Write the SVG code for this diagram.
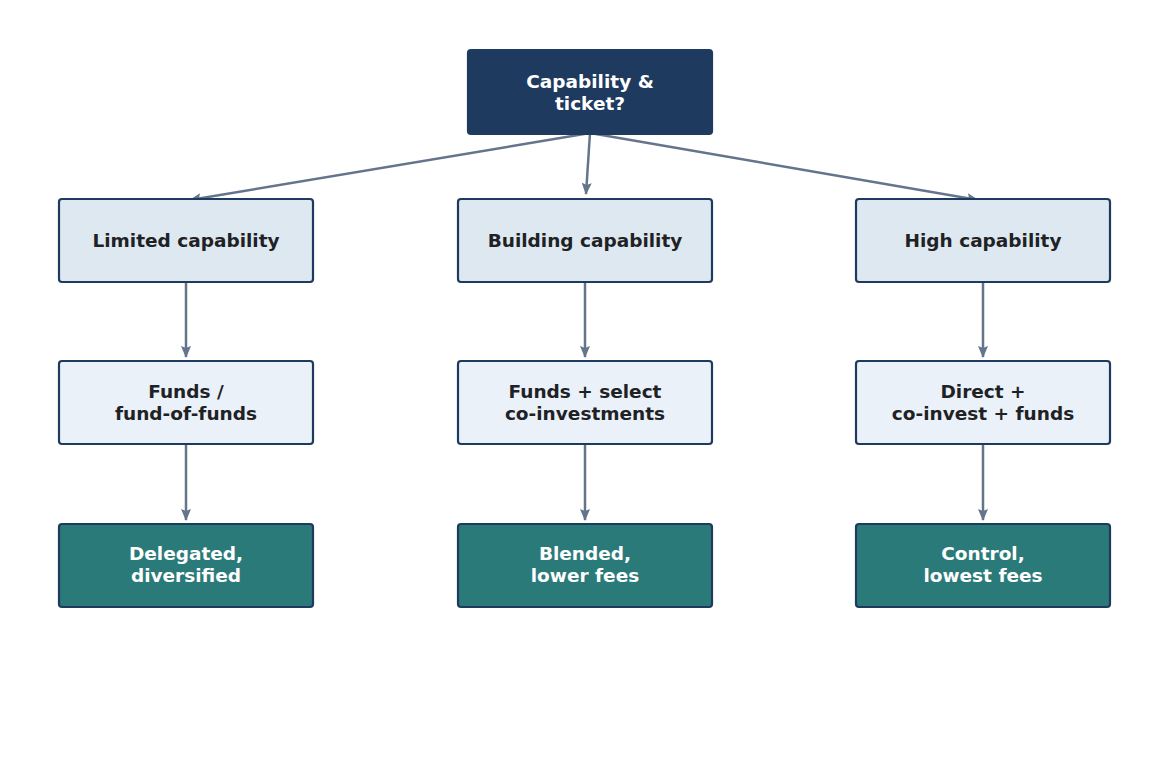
<svg xmlns="http://www.w3.org/2000/svg" width="1169" height="769" viewBox="0 0 1169 769">
<style>
.n rect{stroke:#1e3a5f;stroke-width:2.2}
.n text{font-family:"DejaVu Sans",sans-serif;font-weight:bold;font-size:18.5px;text-anchor:middle}
.a{fill:#dee8f1}.b{fill:#eaf1f9}.c{fill:#2b7a7a}
.dk{fill:#1f2225}.lt{fill:#ffffff}
#edges line{stroke:#64748b;stroke-width:2.5;marker-end:url(#ah)}
</style>
<defs><marker id="ah" markerWidth="12" markerHeight="10" refX="11" refY="5" orient="auto" markerUnits="userSpaceOnUse"><path d="M0,0L12,5L0,10L2,5z" fill="#64748b"/></marker></defs>
<rect width="1169" height="769" fill="#fff"/>
<g id="edges">
<line x1="590" y1="133" x2="190" y2="200"/>
<line x1="590" y1="133" x2="586" y2="194"/>
<line x1="590" y1="133" x2="978" y2="200"/>
<line x1="186" y1="283" x2="186" y2="357"/>
<line x1="585" y1="283" x2="585" y2="357"/>
<line x1="983" y1="283" x2="983" y2="357"/>
<line x1="186" y1="445" x2="186" y2="520"/>
<line x1="585" y1="445" x2="585" y2="520"/>
<line x1="983" y1="445" x2="983" y2="520"/>
</g>
<g id="root" class="n"><rect x="468" y="50" width="244" height="84" rx="3" fill="#1e3a5f"/><text class="lt" x="590" y="88">Capability &amp;</text><text class="lt" x="590" y="110">ticket?</text></g>
<g id="limited" class="n"><rect class="a" x="59" y="199" width="254" height="83" rx="3"/><text class="dk" x="186" y="247">Limited capability</text></g>
<g id="building" class="n"><rect class="a" x="458" y="199" width="254" height="83" rx="3"/><text class="dk" x="585" y="247">Building capability</text></g>
<g id="high" class="n"><rect class="a" x="856" y="199" width="254" height="83" rx="3"/><text class="dk" x="983" y="247">High capability</text></g>
<g id="funds" class="n"><rect class="b" x="59" y="361" width="254" height="83" rx="3"/><text class="dk" x="186" y="398">Funds /</text><text class="dk" x="186" y="420">fund-of-funds</text></g>
<g id="select" class="n"><rect class="b" x="458" y="361" width="254" height="83" rx="3"/><text class="dk" x="585" y="398">Funds + select</text><text class="dk" x="585" y="420">co-investments</text></g>
<g id="direct" class="n"><rect class="b" x="856" y="361" width="254" height="83" rx="3"/><text class="dk" x="983" y="398">Direct +</text><text class="dk" x="983" y="420">co-invest + funds</text></g>
<g id="delegated" class="n"><rect class="c" x="59" y="524" width="254" height="83" rx="3"/><text class="lt" x="186" y="560">Delegated,</text><text class="lt" x="186" y="582">diversified</text></g>
<g id="blended" class="n"><rect class="c" x="458" y="524" width="254" height="83" rx="3"/><text class="lt" x="585" y="560">Blended,</text><text class="lt" x="585" y="582">lower fees</text></g>
<g id="control" class="n"><rect class="c" x="856" y="524" width="254" height="83" rx="3"/><text class="lt" x="983" y="560">Control,</text><text class="lt" x="983" y="582">lowest fees</text></g>
</svg>
